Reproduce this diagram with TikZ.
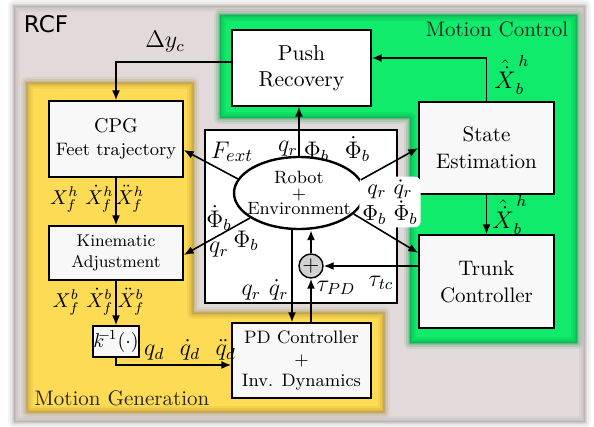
\documentclass[tikz,border=0pt]{standalone}
\usepackage{fontspec}
\newfontfamily\rcffont{DejaVu Sans}
\usetikzlibrary{arrows.meta,shapes.geometric}

\definecolor{rcfgray}{RGB}{226,218,218}
\definecolor{rcfedge}{RGB}{160,152,152}
\definecolor{mcgreen}{RGB}{16,235,107}
\definecolor{mcedge}{RGB}{10,140,65}
\definecolor{mgyellow}{RGB}{254,219,84}
\definecolor{mgedge}{RGB}{160,130,40}
\definecolor{boxfill}{RGB}{248,248,248}
\definecolor{sumfill}{RGB}{210,210,210}

\newcommand\fsz[2]{\fontsize{#1}{#2}\selectfont}
% filled region with a soft, blurred outline
\newcommand\softregion[3]{%
  \fill[#1] #3;
  \foreach \w/\o in {6/0.10,4/0.14,2.4/0.18,1/0.25}{%
    \draw[#2, line width={\w*1pt}, opacity=\o, line join=round] #3;}%
}

\tikzset{
  block/.style={draw=black, line width=0.7pt, fill=boxfill, align=center, inner sep=0pt},
  conn/.style={line width=0.8pt, -{Latex[length=5pt,width=4pt]}},
  mlbl/.style={font=\fsz{12}{14}, inner sep=0pt},
  xlbl/.style={font=\fsz{10}{12}, inner sep=0pt},
  region/.style={font=\fsz{10.5}{12}, text=black!85, inner sep=0pt},
}

\begin{document}
\begin{tikzpicture}[x=0.5pt,y=-0.5pt]
\useasboundingbox (0,0) rectangle (594,427);
\fill[white] (0,0) rectangle (594,427);

% frames
\softregion{rcfgray}{rcfedge}{(14,6) rectangle (585,422)}
\softregion{mgyellow}{mgedge}{(27,83) -- (193,83) -- (193,313) -- (384,313) -- (384,412) -- (27,412) -- cycle}
\softregion{mcgreen}{mcedge}{(220,15) -- (577,15) -- (577,343) -- (410,343) -- (410,118) -- (220,118) -- cycle}
\draw[fill=white, line width=0.6pt] (205,130) rectangle (397,303);

% frame titles
\node[font=\rcffont\fsz{11.5}{12}, inner sep=0pt] (Lrcf) at (46,24) {RCF};
\node[region] (Lmc) at (497,29) {Motion Control};
\node[region] (Lmg) at (122,398) {Motion Generation};

% blocks
\node[block, fill=white, minimum width=69.5pt, minimum height=38pt, font=\fsz{10.8}{13}] (PR) at (301.5,68) {Push\\Recovery};
\node[block, minimum width=67.5pt, minimum height=46pt, font=\fsz{10.5}{13.5}] (SE) at (486.5,148) {State\\Estimation};
\node[block, minimum width=67.5pt, minimum height=46.5pt, font=\fsz{10.5}{13.5}] (TC) at (486.5,281.5) {Trunk\\Controller};
\node[block, minimum width=67pt, minimum height=38pt, font=\fsz{9}{11.5}] (CPG) at (116,139) {{\fsz{10}{11.5}CPG}\\Feet trajectory};
\node[block, minimum width=67pt, minimum height=27pt, font=\fsz{8.5}{10.5}] (KA) at (116,253) {Kinematic\\Adjustment};
\node[block, minimum width=23pt, minimum height=15.5pt, font=\fsz{10}{12}] (KI) at (116,341.5) {$k^{\mkern-7mu-\mkern-2mu1}(\cdot)$};
\node[block, minimum width=69.5pt, minimum height=37.5pt, font=\fsz{9}{10.5}] (PD) at (301.5,360.5) {PD Controller\\+\\Inv. Dynamics};
\node[ellipse, draw, line width=1.2pt, fill=white, minimum width=65pt, minimum height=36pt, inner sep=0pt] (RB) at (299,193) {};
\node[align=center, inner sep=0pt, font=\fsz{8.9}{7.7}] (RBtext) at (RB) {Robot\\+\\Environment};
\node[circle, draw, line width=0.7pt, fill=sumfill, minimum size=12pt, inner sep=0pt, font=\fsz{11}{11}] (SUM) at (311,266) {$+$};

% state label on white background
\node[fill=white, rounded corners=3pt, inner sep=1.5pt, align=center, font=\fsz{11}{12}] (LB) at (390,202) {$q_r\ \dot q_r$\\$\Phi_b\ \dot\Phi_b$};

% connectors
\draw[conn] ([yshift=3pt]PR.west) -| (CPG.north);
\draw[conn] (RB.north) -- (RB.north |- PR.south);
\draw[conn] (RB.167) -- ([yshift=-5.5pt]CPG.east);
\draw[conn] (RB.207) -- ([yshift=-1pt]KA.east);
\draw[conn] (RB.12) -- (SE.west);
\draw[conn] (RB.-21) -- ([yshift=14.25pt]TC.west);
\draw[conn] (TC.west |- SUM) -- (SUM.east);
\draw[conn] (SUM.north) -- (SUM.north |- RB.south);
\draw[conn] (PD.north -| SUM) -- (SUM.south);
\coordinate (pdin) at ([xshift=-4.75pt]PD.north);
\draw[conn] (RB.south -| pdin) -- (pdin);
\draw[conn] (SE.north) |- ([yshift=5pt]PR.east);
\draw[conn] (SE.south) -- (TC.north);
\draw[conn] (CPG.south) -- (KA.north);
\draw[conn] (KA.south) -- (KI.north);
\draw[conn] (KI.south) |- ([yshift=-2.25pt]PD.west);

% signal labels
\node[mlbl] (Ldy) at (165,42) {$\Delta y_c$};
\node[mlbl, font=\fsz{13}{14}] (Lf) at (232,152) {$F_{ext}$};
\node[mlbl] (Lq1) at (288,149) {$q_r$};
\node[mlbl] (Lphi1) at (337,149) {$\Phi_b\ \ \dot\Phi_b$};
\node[mlbl] (Lphid) at (219,218) {$\dot\Phi_b$};
\node[mlbl] (Lq2) at (219,250) {$q_r$};
\node[mlbl] (Lphi2) at (246,241) {$\Phi_b$};
\node[mlbl] (Ltc) at (381,283) {$\tau_{tc}$};
\node[mlbl] (Lpd) at (336,288) {$\tau_{PD}$};
\node[mlbl] (Lqq) at (265,290) {$q_r\ \dot q_r$};
\node[mlbl] (Lxb1) at (512,75) {$\hat{\dot X}_b^{\,h}$};
\node[mlbl] (Lxb2) at (510,215) {$\hat{\dot X}_b^{\,h}$};
\node[xlbl] (Lxh) at (82,199) {$X_f^h\ \dot X_f^h$};
\node[xlbl] (Lxh2) at (130,199) {$\ddot X_f^h$};
\node[xlbl] (Lxb) at (83,302) {$X_f^b\ \dot X_f^b$};
\node[xlbl] (Lxb3) at (131,302) {$\ddot X_f^b$};
\node[mlbl] (Lqd) at (190,350) {$q_d\ \ \dot q_d\ \ \ddot q_d$};
\end{tikzpicture}
\end{document}
